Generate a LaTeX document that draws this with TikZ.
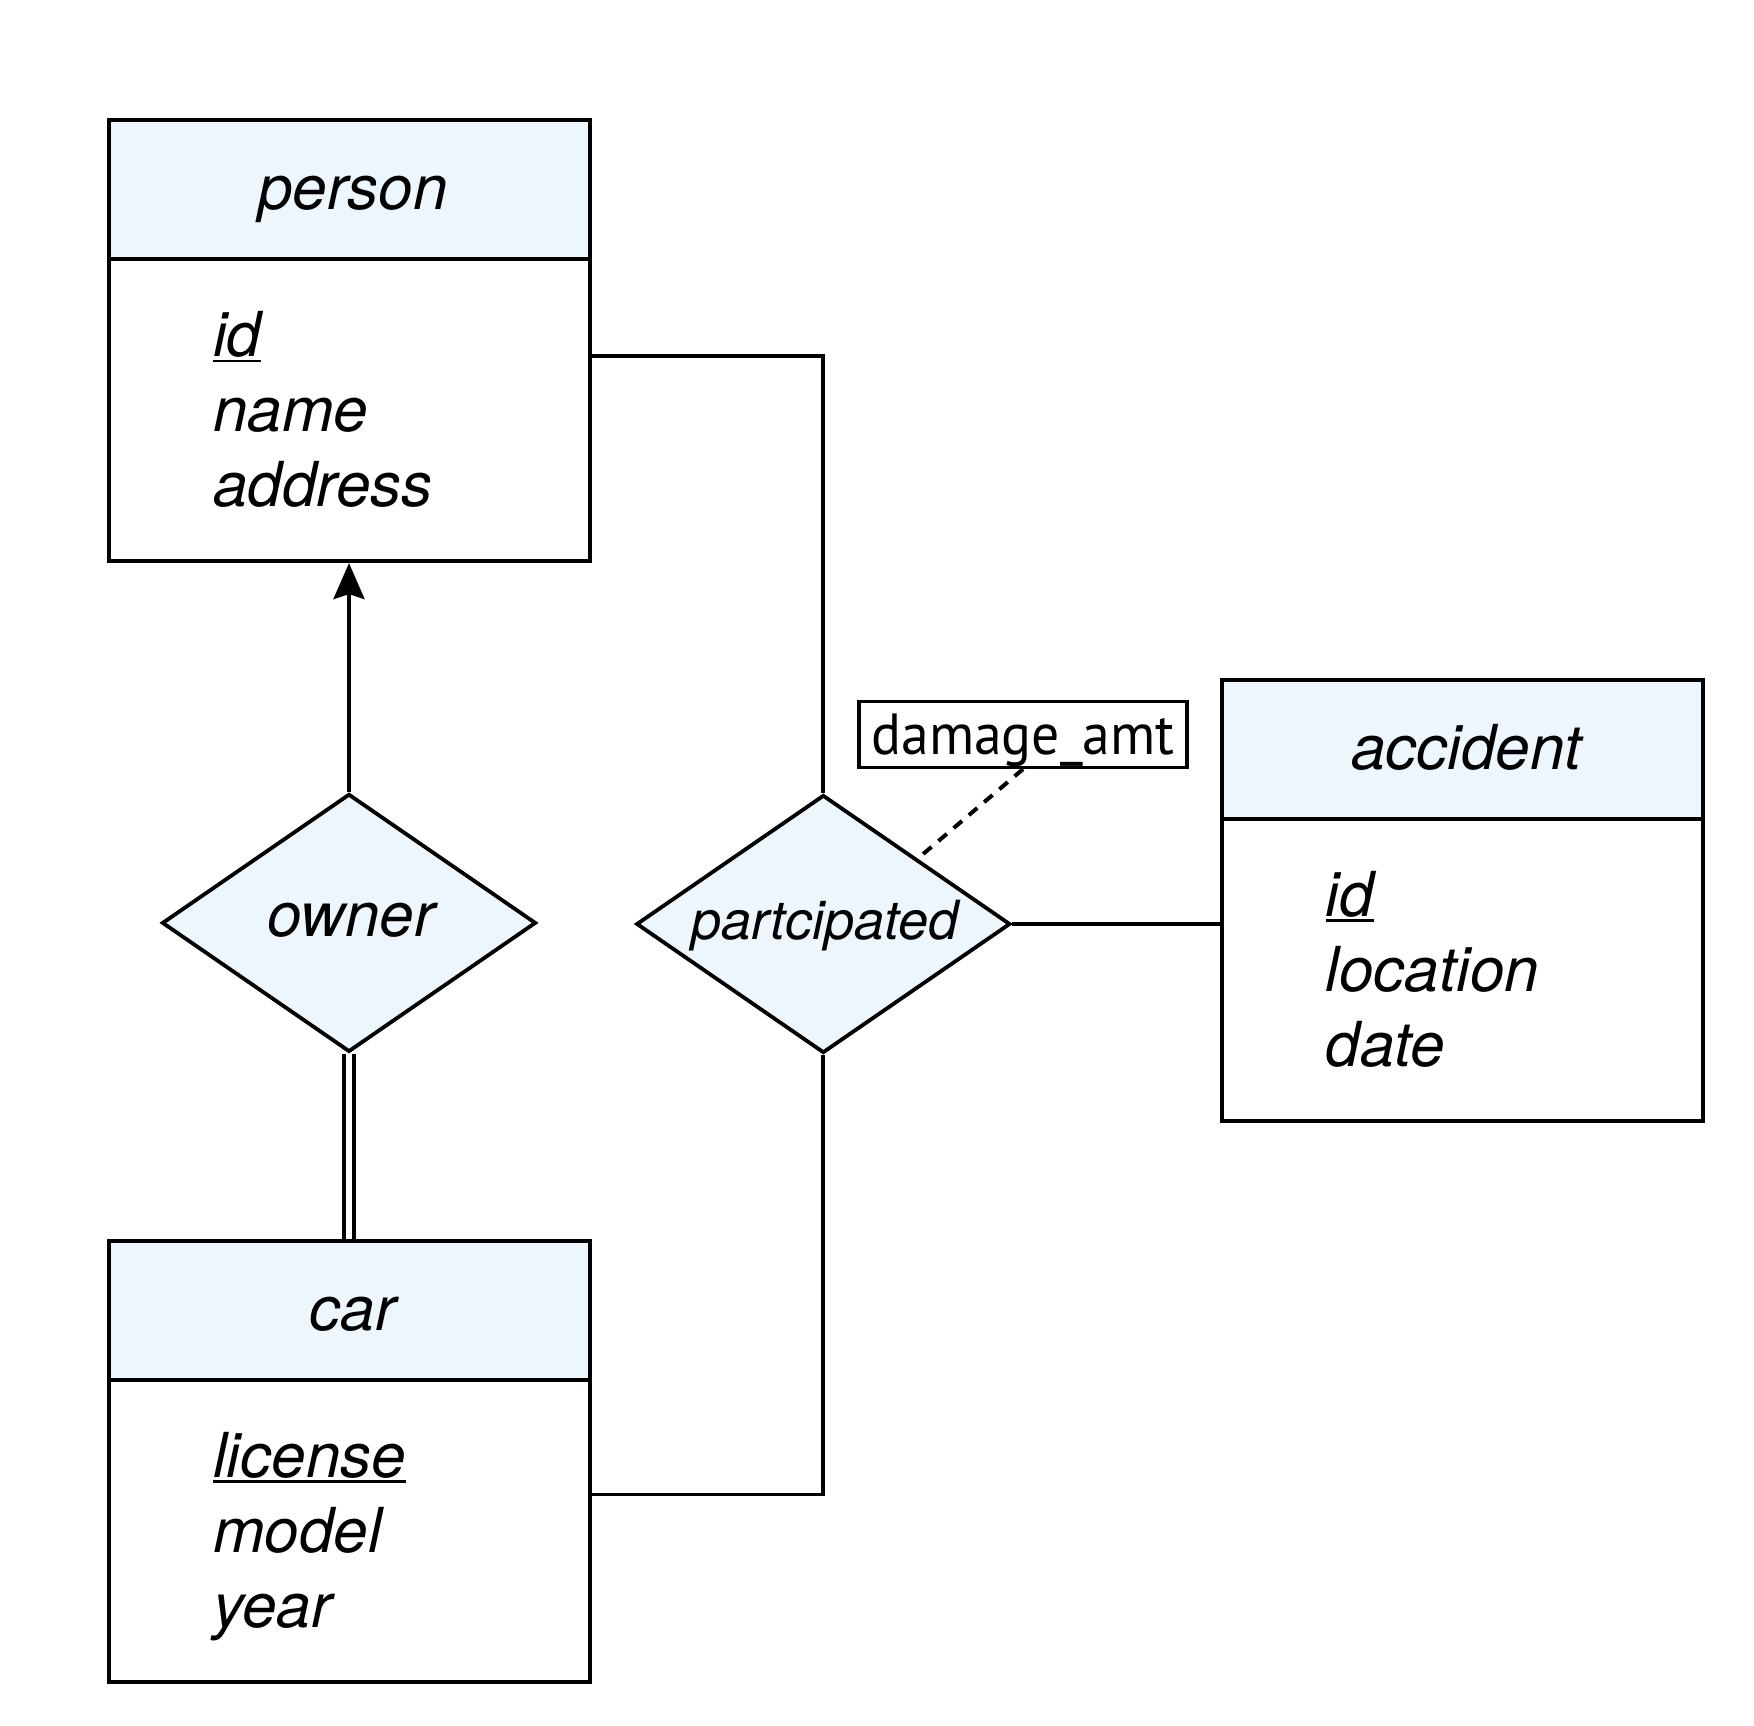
\documentclass[tikz,border=0pt]{standalone}
\usepackage{fontspec}
\setmainfont{TeX Gyre Heros}
\newfontfamily\dmgfont{PT Sans}
\usetikzlibrary{shapes.geometric,arrows.meta,calc}
\pgfdeclarelayer{background}
\pgfsetlayers{background,main}
\definecolor{hdr}{RGB}{238,246,253}
\newcommand\bigit{\fontsize{62pt}{75pt}\selectfont\itshape}
\newcommand\midit{\fontsize{54pt}{65pt}\selectfont\itshape}
\newcommand\keyattr[1]{\setbox0=\hbox{#1}\rlap{\rule[-6pt]{\wd0}{2.6pt}}\box0}
\begin{document}
\begin{tikzpicture}[x=1pt,y=-1pt,
  entity/.style={draw, line width=4pt, fill=white, minimum width=481pt, minimum height=441pt, inner sep=0pt,
    path picture={\fill[hdr] (path picture bounding box.north west) rectangle ([yshift=-138.7pt]path picture bounding box.north east);
      \draw[line width=4pt] ([yshift=-138.7pt]path picture bounding box.north west) -- ([yshift=-138.7pt]path picture bounding box.north east);}},
  rel/.style={diamond, draw, line width=3.8pt, fill=hdr, minimum width=374pt, minimum height=258pt, inner sep=0pt},
  txt/.style={inner sep=0pt, font=\bigit},
  reltxt/.style={inner sep=0pt},
  attrbox/.style={draw, line width=3.5pt, fill=white, minimum width=327.7pt, minimum height=66pt, inner sep=0pt,
    text height=45pt, text depth=4pt, font=\dmgfont\fontsize{58pt}{60pt}\selectfont},
  conn/.style={draw, line width=3.8pt},
  dashconn/.style={draw, line width=4pt, dash pattern=on 11pt off 9pt}
]
\useasboundingbox (0,0) rectangle (1754,1726);

% entities
\node[entity] (person) at (349,340.6) {};
\node[entity] (car) at (349,1461.5) {};
\node[entity] (accident) at (1462.5,900.5) {};

\node[txt, anchor=base] (person-t) at ([xshift=4pt,yshift=-91.5pt]person.north) {person};
\node[txt, anchor=base west] (person-a1) at ([xshift=106.5pt,yshift=-238pt]person.north west) {\keyattr{id}};
\node[txt, anchor=base west] (person-a2) at ([xshift=106.5pt,yshift=-313pt]person.north west) {name};
\node[txt, anchor=base west] (person-a3) at ([xshift=106.5pt,yshift=-388pt]person.north west) {address};

\node[txt, anchor=base] (car-t) at ([xshift=4pt,yshift=-91.5pt]car.north) {car};
\node[txt, anchor=base west] (car-a1) at ([xshift=106.5pt,yshift=-238pt]car.north west) {\keyattr{license}};
\node[txt, anchor=base west] (car-a2) at ([xshift=106.5pt,yshift=-313pt]car.north west) {model};
\node[txt, anchor=base west] (car-a3) at ([xshift=106.5pt,yshift=-388pt]car.north west) {year};

\node[txt, anchor=base] (accident-t) at ([xshift=4pt,yshift=-91.5pt]accident.north) {accident};
\node[txt, anchor=base west] (accident-a1) at ([xshift=105.5pt,yshift=-238pt]accident.north west) {\keyattr{id}};
\node[txt, anchor=base west] (accident-a2) at ([xshift=105.5pt,yshift=-313pt]accident.north west) {location};
\node[txt, anchor=base west] (accident-a3) at ([xshift=105.5pt,yshift=-388pt]accident.north west) {date};

% relationships
\node[rel] (owner) at (349,922.9) {};
\node[reltxt, anchor=base, font=\bigit] (owner-t) at ([xshift=2pt,yshift=-14pt]owner.center) {owner};
\node[rel] (partcipated) at (823.3,924) {};
\node[reltxt, anchor=base, font=\midit] (partcipated-t) at ([xshift=2pt,yshift=-15.6pt]partcipated.center) {partcipated};

% relationship attribute
\node[attrbox] (damage) at (1023,734.4) {\scalebox{0.96}[1]{damage\_amt}};

% connectors
\begin{pgfonlayer}{background}
\draw[conn, -{Stealth[length=36pt,width=31pt,inset=5pt]}] (owner.north) -- (person.south);
\draw[conn, line width=4.5pt, double, double distance=5.5pt] (owner.south) -- (car.north);
\draw[conn] ([yshift=-15.1pt]person.east) -| (partcipated.north);
\draw[conn] ([yshift=-33pt]car.east) -| (partcipated.south);
\draw[conn] (partcipated.east) -- (partcipated.east -| accident.west);
\draw[dashconn] (damage.south) -- ($(partcipated.north)!0.5!(partcipated.east)$);
\end{pgfonlayer}
\end{tikzpicture}
\end{document}
